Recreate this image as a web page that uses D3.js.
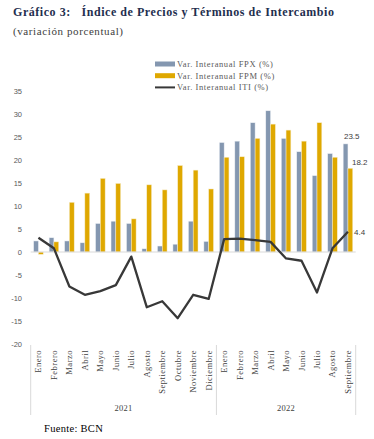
<!DOCTYPE html>
<html>
<head>
<meta charset="utf-8">
<script src="https://cdn.jsdelivr.net/npm/d3@7"></script>
<style>
  body { margin: 0; background: #fff; }
  svg { display: block; }
</style>
</head>
<body>
<script>
let width = 374
let height = 439

// meses (dos años) y sus valores
const months = ["Enero", "Febrero", "Marzo", "Abril", "Mayo", "Junio", "Julio", "Agosto",
  "Septiembre", "Octubre", "Noviembre", "Diciembre",
  "Enero", "Febrero", "Marzo", "Abril", "Mayo", "Junio", "Julio", "Agosto", "Septiembre"]
const years = [{ label: "2021", from: 0, to: 11 }, { label: "2022", from: 12, to: 20 }]
const fpx = [2.4, 3.1, 2.4, 2.0, 6.2, 6.7, 6.2, 0.7, 1.3, 1.7, 6.7, 2.3,
  23.8, 24.1, 28.1, 30.7, 24.7, 21.8, 16.6, 21.4, 23.5]
const fpm = [-0.5, 2.2, 10.8, 12.8, 16.0, 14.9, 7.2, 14.6, 13.5, 18.8, 17.8, 13.7,
  20.6, 20.7, 24.7, 27.8, 26.5, 24.1, 28.1, 20.6, 18.2]
const iti = [3.1, 0.8, -7.5, -9.3, -8.5, -7.2, -1.0, -12.0, -10.7, -14.4, -9.3, -10.2,
  2.8, 2.9, 2.6, 2.2, -1.4, -1.9, -8.8, 0.8, 4.4]
const yTicks = [35, 30, 25, 20, 15, 10, 5, 0, -5, -10, -15, -20]
const legendItems = ["Var. Interanual FPX (%)", "Var. Interanual FPM (%)", "Var. Interanual ITI (%)"]

const colFPX = "#8497b0"
const colFPM = "#dfa800"
const colITI = "#383838"
const serif = "'Liberation Serif', 'DejaVu Serif', serif"
const sans = "'Liberation Sans', Arial, sans-serif"

let svg = d3.select("body").append("svg")
  .attr("width", width)
  .attr("height", height)

// titulo
svg.append("text")
  .attr("x", 13).attr("y", 16)
  .attr("font-family", serif).attr("font-weight", "bold")
  .attr("font-size", 12).attr("fill", "#1f2f4f")
  .attr("letter-spacing", 0.55)
  .attr("xml:space", "preserve")
  .text("Gráfico 3:   Índice de Precios y Términos de Intercambio")
svg.append("text")
  .attr("x", 13).attr("y", 35)
  .attr("font-family", serif).attr("font-size", 11).attr("fill", "#404040")
  .attr("letter-spacing", 0.6)
  .text("(variación porcentual)")

let x = d3.scaleBand()
  .domain(months.map((d, i) => i))
  .range([30.7, 355.7])
  .paddingInner(0.38).paddingOuter(0.19)
let xSub = d3.scaleBand()
  .domain(["fpx", "fpm"])
  .range([0, x.bandwidth()])
let y = d3.scaleLinear().domain([-20, 35]).range([344, 91])

// eje y
svg.append("g")
  .selectAll("text")
  .data(yTicks).enter()
  .append("text")
  .attr("x", 22).attr("y", d => y(d) + 3)
  .attr("text-anchor", "end")
  .attr("font-family", sans).attr("font-size", 7.5).attr("fill", "#595959")
  .text(d => d)

// barras
let groups = svg.append("g").selectAll("g")
  .data(months.map((d, i) => i)).enter()
  .append("g")
  .attr("transform", i => `translate(${x(i)},0)`)
groups.append("rect")
  .attr("x", xSub("fpx"))
  .attr("width", xSub.bandwidth())
  .attr("y", i => y(Math.max(0, fpx[i])))
  .attr("height", i => Math.abs(y(fpx[i]) - y(0)))
  .attr("fill", colFPX).attr("stroke", "#eef1f5").attr("stroke-width", 0.5)
groups.append("rect")
  .attr("x", xSub("fpm"))
  .attr("width", xSub.bandwidth())
  .attr("y", i => y(Math.max(0, fpm[i])))
  .attr("height", i => Math.abs(y(fpm[i]) - y(0)))
  .attr("fill", colFPM).attr("stroke", "#f6ecc8").attr("stroke-width", 0.5)

// linea de cero
svg.append("line")
  .attr("x1", 30.7).attr("x2", 355.7)
  .attr("y1", y(0)).attr("y2", y(0))
  .attr("stroke", "#d9d9d9").attr("stroke-width", 1)

// linea ITI
let line = d3.line()
  .x((d, i) => x(i) + x.bandwidth() / 2)
  .y(d => y(d))
svg.append("path")
  .datum(iti)
  .attr("d", line)
  .attr("fill", "none")
  .attr("stroke", colITI).attr("stroke-width", 2.3)
  .attr("stroke-linejoin", "round")

// etiquetas del ultimo mes
const last = months.length - 1
const lastLabels = [
  { v: fpx[last], dx: -4, dy: -5 },
  { v: fpm[last], dx: 4, dy: -3 },
  { v: iti[last], dx: 6, dy: 3 }
]
svg.append("g").selectAll("text")
  .data(lastLabels).enter()
  .append("text")
  .attr("x", d => x(last) + x.bandwidth() / 2 + d.dx)
  .attr("y", d => y(d.v) + d.dy)
  .attr("font-family", sans).attr("font-size", 8).attr("fill", "#404040")
  .text(d => d.v.toFixed(1))

// eje x: meses rotados
svg.append("g").selectAll("text")
  .data(months).enter()
  .append("text")
  .attr("transform", (d, i) => `translate(${x(i) + x.bandwidth() / 2 + 3},350) rotate(-90)`)
  .attr("text-anchor", "end")
  .attr("font-family", serif).attr("font-size", 8.5).attr("fill", "#404040")
  .attr("letter-spacing", 0.5)
  .text(d => d)

// separadores y años
let seps = [30.7, (x(11) + x(12) + x.bandwidth()) / 2, 355.7]
svg.append("g").selectAll("line")
  .data(seps).enter()
  .append("line")
  .attr("x1", d => d).attr("x2", d => d)
  .attr("y1", 345).attr("y2", 415)
  .attr("stroke", "#d9d9d9").attr("stroke-width", 1)
svg.append("g").selectAll("text")
  .data(years).enter()
  .append("text")
  .attr("x", d => (x(d.from) + x(d.to) + x.bandwidth()) / 2)
  .attr("y", 411)
  .attr("text-anchor", "middle")
  .attr("font-family", serif).attr("font-size", 8.5).attr("fill", "#404040")
  .attr("letter-spacing", 0.3)
  .text(d => d.label)

// leyenda
let legend = svg.append("g").attr("transform", "translate(155,64)")
legendItems.forEach((t, i) => {
  let g = legend.append("g").attr("transform", `translate(0,${i * 11.7})`)
  if (i < 2) {
    g.append("rect").attr("x", 0).attr("y", -2.5).attr("width", 20).attr("height", 5)
      .attr("fill", i == 0 ? colFPX : colFPM)
  } else {
    g.append("line").attr("x1", 0).attr("x2", 20).attr("y1", 0).attr("y2", 0)
      .attr("stroke", colITI).attr("stroke-width", 2)
  }
  g.append("text").attr("x", 22).attr("y", 3)
    .attr("font-family", serif).attr("font-size", 8.5).attr("fill", "#595959")
    .attr("letter-spacing", 0.6)
    .text(t)
})

svg.append("text")
  .attr("x", 44).attr("y", 432)
  .attr("font-family", serif).attr("font-size", 10.5).attr("fill", "#000")
  .attr("letter-spacing", 0.3)
  .text("Fuente: BCN")
</script>
</body>
</html>
